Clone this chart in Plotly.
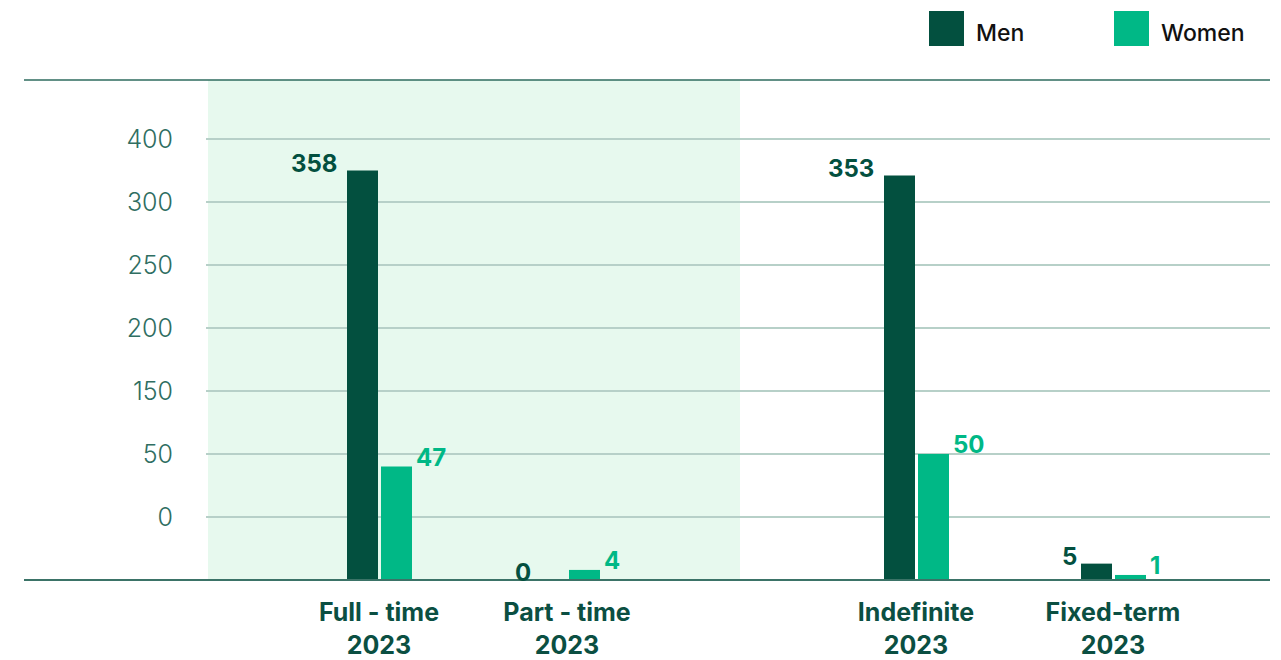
import plotly.graph_objects as go

# ---- data ----
categories = ["Full - time", "Part - time", "Indefinite", "Fixed-term"]
year = "2023"
men_values = [358, 0, 353, 5]
women_values = [47, 4, 50, 1]
# bar heights as read against the chart's (irregular) y-axis gridlines
men_heights = [325, 0, 321, 13]
women_heights = [90, 8, 100, 4]
y_tick_vals = [50, 100, 150, 200, 250, 300, 350]
y_tick_text = ["0", "50", "150", "200", "250", "300", "400"]

# ---- layout helpers ----
W, H = 1281, 660
L, R, T, B = 206, 1270, 80, 580
group_pos = [379, 567, 916, 1113]
bar_w = 31
MEN = "#03503F"
WOMEN = "#00B886"
DARK_TXT = "#0B4F42"
TICK_TXT = "#2F6E62"
FONT = "Inter"


def px_x(px):
    return (px - L) / (R - L)


def px_y(py):
    return (B - py) / (B - T)


fig = go.Figure()
fig.add_trace(go.Bar(x=group_pos, y=men_heights, width=bar_w, offset=-32,
                     marker=dict(color=MEN, line=dict(width=0)), name="Men",
                     hoverinfo="skip"))
fig.add_trace(go.Bar(x=group_pos, y=women_heights, width=bar_w, offset=2,
                     marker=dict(color=WOMEN, line=dict(width=0)), name="Women",
                     hoverinfo="skip"))

annotations = []
for xp, h, v in zip(group_pos, men_heights, men_values):
    gap = 8 if h > 20 else 2
    annotations.append(dict(x=xp - 32 - gap, y=h, xref="x", yref="y", text=f"<b>{v}</b>",
                            showarrow=False, xanchor="right", yanchor="bottom", yshift=-9,
                            font=dict(family=FONT, size=24, color=MEN)))
for xp, h, v in zip(group_pos, women_heights, women_values):
    annotations.append(dict(x=xp + 2 + bar_w + 2, y=h, xref="x", yref="y", text=f"<b>{v}</b>",
                            showarrow=False, xanchor="left", yanchor="bottom", yshift=-7,
                            font=dict(family=FONT, size=24, color=WOMEN)))

# legend (manual)
legend_items = [("Men", MEN, 929), ("Women", WOMEN, 1114)]
shapes = []
for name, col, lx in legend_items:
    shapes.append(dict(type="rect", xref="paper", yref="paper",
                       x0=px_x(lx), x1=px_x(lx + 35), y0=px_y(46), y1=px_y(11),
                       fillcolor=col, line=dict(width=0)))
    annotations.append(dict(x=px_x(lx + 45), y=px_y(33), xref="paper", yref="paper",
                            text=name, showarrow=False, xanchor="left", yanchor="middle",
                            font=dict(family=FONT, size=23, color="#111111", weight=500)))

# shaded background region
shapes.append(dict(type="rect", xref="x", yref="paper", x0=208, x1=740, y0=0, y1=1,
                   fillcolor="#E7F9EE", line=dict(width=0), layer="below"))
# top rule and baseline
shapes.append(dict(type="line", xref="paper", yref="paper", x0=px_x(24), x1=1, y0=1, y1=1,
                   line=dict(color="#2E6B5E", width=1.5)))
shapes.append(dict(type="line", xref="paper", yref="paper", x0=px_x(24), x1=1, y0=0, y1=0,
                   line=dict(color="#3B7367", width=2)))

fig.update_layout(
    template="none",
    width=W, height=H,
    margin=dict(l=L, r=W - R, t=T, b=H - B, pad=0),
    paper_bgcolor="white", plot_bgcolor="rgba(0,0,0,0)",
    barmode="overlay", showlegend=False,
    shapes=shapes, annotations=annotations,
    font=dict(family=FONT),
    xaxis=dict(range=[L, R], tickvals=group_pos,
               ticktext=[f"<b>{c}</b><br><b>{year}</b>" for c in categories],
               tickfont=dict(family=FONT, size=25, color=DARK_TXT),
               showgrid=False, zeroline=False, showline=False, ticks="",
               ticklabelstandoff=15, automargin=False, fixedrange=True),
    yaxis=dict(range=[0, 500 / 63 * 50], tickvals=y_tick_vals, ticktext=y_tick_text,
               tickfont=dict(family=FONT, size=25, color=TICK_TXT, weight=300),
               showgrid=True, gridcolor="#B7D0C8", gridwidth=1.5,
               zeroline=False, showline=False, ticks="", ticklabelstandoff=32,
               automargin=False, fixedrange=True),
)

fig.write_html("out.html")
